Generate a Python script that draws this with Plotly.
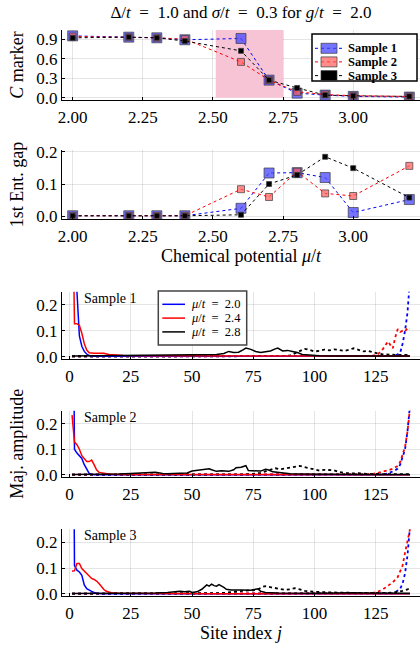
import plotly.graph_objects as go

# ---------------- data: top panels ----------------
mu = [2.0, 2.2, 2.3, 2.4, 2.6, 2.7, 2.8, 2.9, 3.0, 3.2]
c_marker_s1 = [0.95, 0.93, 0.92, 0.89, 0.91, 0.27, 0.07, 0.04, 0.02, 0.01]
c_marker_s2 = [0.94, 0.93, 0.92, 0.90, 0.55, 0.27, 0.09, 0.05, 0.03, 0.02]
c_marker_s3 = [0.92, 0.93, 0.92, 0.87, 0.72, 0.27, 0.15, 0.04, 0.03, 0.02]
gap_s1 = [0.002, 0.002, 0.002, 0.002, 0.025, 0.134, 0.135, 0.12, 0.012, 0.052]
gap_s2 = [0.002, 0.002, 0.002, 0.002, 0.084, 0.060, 0.138, 0.071, 0.063, 0.156]
gap_s3 = [0.002, 0.002, 0.002, 0.002, 0.005, 0.100, 0.128, 0.184, 0.149, 0.058]
sample_names = ["Sample 1", "Sample 2", "Sample 3"]
shade_mu = [2.51, 2.75]

# ---------------- data: Majorana amplitudes ----------------
mu_labels = ["2.0", "2.4", "2.8"]

# Sample 1
s1_b_sol_j = [1, 2, 3, 4, 5, 6, 7, 8, 9, 10, 20, 60, 100, 139]
s1_b_sol_a = [0.8, 0.45, 0.25, 0.08, 0.04, 0.02, 0.01, 0.004, 0.002, 0.001, 0.001, 0.001, 0.001, 0.001]
s1_r_sol_j = [1, 2, 3, 4, 5, 6, 7, 8, 10, 12, 14, 16, 18, 22, 30, 60, 100, 125, 139]
s1_r_sol_a = [0.75, 0.127, 0.127, 0.12, 0.09, 0.05, 0.025, 0.015, 0.013, 0.014, 0.013, 0.008, 0.006, 0.004, 0.003, 0.003, 0.002, 0.002, 0.002]
s1_k_sol_j = [1, 15, 30, 45, 55, 60, 63, 65, 67, 69, 71, 72, 74, 76, 78, 80, 82, 84, 85, 87, 89, 91, 93, 95, 98, 102, 110, 120, 130, 139]
s1_k_sol_a = [0.002, 0.003, 0.004, 0.005, 0.006, 0.008, 0.012, 0.02, 0.016, 0.017, 0.027, 0.033, 0.028, 0.02, 0.016, 0.02, 0.022, 0.03, 0.033, 0.022, 0.024, 0.02, 0.016, 0.008, 0.005, 0.003, 0.002, 0.002, 0.002, 0.002]
s1_b_dot_j = [1, 60, 120, 130, 132, 133, 134, 135, 136, 137, 138, 139]
s1_b_dot_a = [0.001, 0.001, 0.001, 0.001, 0.002, 0.004, 0.008, 0.015, 0.05, 0.1, 0.17, 0.3]
s1_r_dot_j = [1, 40, 80, 120, 124, 126, 128, 130, 131, 132, 133, 134, 135, 136, 137, 138, 139]
s1_r_dot_a = [0.001, 0.001, 0.001, 0.002, 0.004, 0.01, 0.03, 0.058, 0.045, 0.032, 0.075, 0.106, 0.095, 0.1, 0.097, 0.11, 0.108]
s1_k_dot_j = [1, 30, 60, 85, 90, 92, 94, 96, 98, 100, 102, 104, 106, 108, 110, 112, 114, 116, 118, 120, 122, 124, 126, 128, 130, 133, 136, 139]
s1_k_dot_a = [0.001, 0.001, 0.001, 0.002, 0.004, 0.012, 0.022, 0.03, 0.026, 0.02, 0.022, 0.027, 0.024, 0.028, 0.026, 0.022, 0.026, 0.032, 0.026, 0.02, 0.022, 0.016, 0.012, 0.009, 0.008, 0.006, 0.006, 0.007]

# Sample 2
s2_b_sol_j = [1, 2, 3, 4, 5, 6, 7, 8, 9, 10, 20, 60, 100, 139]
s2_b_sol_a = [1.2, 0.1, 0.085, 0.072, 0.064, 0.04, 0.02, 0.006, 0.002, 0.001, 0.001, 0.001, 0.001, 0.001]
s2_r_sol_j = [1, 2, 3, 4, 5, 6, 7, 8, 9, 10, 11, 12, 14, 16, 20, 30, 60, 100, 139]
s2_r_sol_a = [0.233, 0.128, 0.118, 0.1, 0.075, 0.065, 0.052, 0.052, 0.058, 0.04, 0.02, 0.01, 0.006, 0.004, 0.002, 0.002, 0.001, 0.001, 0.001]
s2_k_sol_j = [1, 15, 20, 25, 30, 33, 35, 38, 40, 45, 48, 50, 53, 55, 57, 58, 60, 62, 65, 67, 68, 70, 72, 73, 75, 78, 80, 81, 83, 86, 90, 95, 100, 110, 120, 130, 139]
s2_k_sol_a = [0.002, 0.002, 0.004, 0.006, 0.008, 0.009, 0.01, 0.006, 0.005, 0.007, 0.008, 0.015, 0.02, 0.021, 0.024, 0.02, 0.014, 0.016, 0.014, 0.02, 0.028, 0.03, 0.036, 0.017, 0.016, 0.015, 0.022, 0.02, 0.012, 0.008, 0.005, 0.004, 0.003, 0.002, 0.002, 0.002, 0.002]
s2_b_dot_j = [1, 60, 120, 128, 130, 132, 133, 134, 135, 136, 137, 138, 139]
s2_b_dot_a = [0.001, 0.001, 0.001, 0.002, 0.006, 0.012, 0.018, 0.025, 0.04, 0.07, 0.1, 0.17, 0.27]
s2_r_dot_j = [1, 60, 115, 120, 124, 126, 128, 130, 132, 134, 135, 136, 137, 138, 139]
s2_r_dot_a = [0.001, 0.001, 0.001, 0.002, 0.004, 0.008, 0.012, 0.018, 0.024, 0.035, 0.05, 0.08, 0.11, 0.17, 0.26]
s2_k_dot_j = [1, 40, 70, 75, 78, 80, 82, 84, 86, 88, 90, 92, 94, 96, 98, 100, 102, 104, 106, 108, 110, 112, 115, 118, 122, 126, 130, 135, 139]
s2_k_dot_a = [0.001, 0.001, 0.002, 0.004, 0.008, 0.014, 0.02, 0.026, 0.022, 0.025, 0.028, 0.03, 0.035, 0.03, 0.025, 0.02, 0.017, 0.02, 0.02, 0.018, 0.012, 0.008, 0.006, 0.007, 0.004, 0.003, 0.003, 0.003, 0.003]

# Sample 3
s3_b_sol_j = [1, 2, 3, 4, 5, 6, 7, 8, 9, 10, 11, 13, 60, 100, 139]
s3_b_sol_a = [1.5, 0.11, 0.092, 0.085, 0.072, 0.035, 0.02, 0.014, 0.01, 0.006, 0.003, 0.001, 0.001, 0.001, 0.001]
s3_r_sol_j = [1, 2, 3, 4, 5, 6, 7, 8, 9, 10, 11, 12, 13, 14, 15, 17, 20, 30, 60, 100, 139]
s3_r_sol_a = [0.088, 0.09, 0.118, 0.118, 0.098, 0.088, 0.08, 0.068, 0.06, 0.056, 0.05, 0.04, 0.028, 0.017, 0.01, 0.005, 0.003, 0.002, 0.001, 0.001, 0.001]
s3_k_sol_j = [1, 20, 30, 35, 40, 43, 45, 47, 49, 50, 52, 54, 55, 56, 57, 58, 59, 60, 61, 62, 63, 64, 66, 70, 74, 76, 77, 78, 80, 85, 90, 100, 110, 114, 116, 120, 125, 130, 139]
s3_k_sol_a = [0.002, 0.002, 0.003, 0.004, 0.006, 0.008, 0.01, 0.008, 0.01, 0.006, 0.008, 0.018, 0.028, 0.035, 0.03, 0.038, 0.032, 0.03, 0.036, 0.032, 0.025, 0.018, 0.015, 0.015, 0.014, 0.018, 0.02, 0.01, 0.006, 0.004, 0.003, 0.003, 0.004, 0.006, 0.005, 0.004, 0.004, 0.003, 0.003]
s3_b_dot_j = [1, 60, 120, 130, 132, 133, 134, 135, 136, 137, 138, 139]
s3_b_dot_a = [0.001, 0.001, 0.001, 0.001, 0.002, 0.006, 0.012, 0.02, 0.04, 0.08, 0.15, 0.26]
s3_r_dot_j = [1, 60, 115, 122, 124, 126, 128, 130, 132, 134, 135, 136, 137, 138, 139]
s3_r_dot_a = [0.001, 0.001, 0.001, 0.002, 0.004, 0.009, 0.018, 0.03, 0.045, 0.065, 0.085, 0.11, 0.16, 0.2, 0.25]
s3_k_dot_j = [1, 40, 55, 60, 63, 65, 68, 70, 72, 75, 77, 79, 80, 82, 84, 86, 88, 90, 92, 94, 96, 100, 105, 110, 120, 125, 128, 130, 132, 134, 136, 138, 139]
s3_k_dot_a = [0.001, 0.001, 0.002, 0.003, 0.004, 0.006, 0.01, 0.012, 0.013, 0.014, 0.018, 0.028, 0.03, 0.026, 0.022, 0.02, 0.016, 0.018, 0.022, 0.018, 0.012, 0.008, 0.006, 0.005, 0.004, 0.003, 0.003, 0.004, 0.005, 0.008, 0.012, 0.018, 0.022]

samples = [
    [(s1_b_sol_j, s1_b_sol_a, s1_b_dot_j, s1_b_dot_a),
     (s1_r_sol_j, s1_r_sol_a, s1_r_dot_j, s1_r_dot_a),
     (s1_k_sol_j, s1_k_sol_a, s1_k_dot_j, s1_k_dot_a)],
    [(s2_b_sol_j, s2_b_sol_a, s2_b_dot_j, s2_b_dot_a),
     (s2_r_sol_j, s2_r_sol_a, s2_r_dot_j, s2_r_dot_a),
     (s2_k_sol_j, s2_k_sol_a, s2_k_dot_j, s2_k_dot_a)],
    [(s3_b_sol_j, s3_b_sol_a, s3_b_dot_j, s3_b_dot_a),
     (s3_r_sol_j, s3_r_sol_a, s3_r_dot_j, s3_r_dot_a),
     (s3_k_sol_j, s3_k_sol_a, s3_k_dot_j, s3_k_dot_a)],
]

# ---------------- styling ----------------
FONT = "Liberation Serif"
W, H = 420, 645
ML, MR, MT, MB = 62, 0, 30, 49
PW = W - ML - MR
PH = H - MT - MB
EQ = "\u2002=\u2002"


def ydom(top_px, bot_px):
    return [(H - MB - bot_px) / PH, (H - MB - top_px) / PH]


def px_x(px):
    return (px - ML) / PW


def px_y(py):
    return (H - MB - py) / PH


line_cols = ["blue", "red", "black"]
mk_fill = ["rgba(70,70,255,0.75)", "rgba(255,90,90,0.7)", "rgba(0,0,0,1)"]
mk_edge = "rgba(60,60,60,0.7)"
mk_size = [10, 7, 5]

fig = go.Figure()

# top panel: C marker
for i, vals in enumerate([c_marker_s1, c_marker_s2, c_marker_s3]):
    fig.add_trace(go.Scatter(
        x=mu, y=vals, mode="lines+markers", name=sample_names[i], showlegend=False,
        line=dict(color=line_cols[i], width=1, dash="dot"),
        marker=dict(symbol="square", size=mk_size[i], color=mk_fill[i],
                    line=dict(color=mk_edge, width=1)),
        xaxis="x", yaxis="y"))

# second panel: entanglement gap
for i, vals in enumerate([gap_s1, gap_s2, gap_s3]):
    fig.add_trace(go.Scatter(
        x=mu, y=vals, mode="lines+markers", name=sample_names[i], showlegend=False,
        line=dict(color=line_cols[i], width=1, dash="dot"),
        marker=dict(symbol="square", size=mk_size[i], color=mk_fill[i],
                    line=dict(color=mk_edge, width=1)),
        xaxis="x2", yaxis="y2"))

# bottom panels
for s, curves in enumerate(samples):
    xa = f"x{s + 3}"
    ya = f"y{s + 3}"
    for c, (js, as_, jd, ad) in enumerate(curves):
        fig.add_trace(go.Scatter(
            x=jd, y=ad, mode="lines", showlegend=False,
            line=dict(color=line_cols[c], width=1.8, dash="dot"),
            xaxis=xa, yaxis=ya))
    for c, (js, as_, jd, ad) in enumerate(curves):
        fig.add_trace(go.Scatter(
            x=js, y=as_, mode="lines", showlegend=False,
            name=f"μ/t = {mu_labels[c]}",
            line=dict(color=line_cols[c], width=1.5),
            xaxis=xa, yaxis=ya))

axis_common = dict(
    showline=True, linecolor="black", linewidth=1, mirror=False,
    ticks="inside", ticklen=3, tickcolor="black",
    showgrid=True, gridcolor="rgba(0,0,0,0.1)", gridwidth=1,
    zeroline=False, automargin=False,
    tickfont=dict(family=FONT, size=17, color="black"),
)

mu_ticks = [2.0, 2.25, 2.5, 2.75, 3.0]
mu_ticktext = ["2.00", "2.25", "2.50", "2.75", "3.00"]
site_ticks = [0, 25, 50, 75, 100, 125]
TFONT = dict(family=FONT, size=18, color="black")

shapes = [dict(type="rect", xref="x", yref="y", x0=shade_mu[0], x1=shade_mu[1],
               y0=0.0, y1=1.04, fillcolor="#f7c4d6", line=dict(width=0), layer="between")]
ann = []

# ---- legend for the top panel (drawn as layout shapes + text) ----
leg1 = dict(left=312, right=417, top=34, bottom=81, rows=[48.3, 61.9, 75.6],
            line_x=(315, 343), glyph_x=329, text_x=346)
shapes.append(dict(type="rect", xref="paper", yref="paper",
                   x0=px_x(leg1["left"]), x1=px_x(leg1["right"]),
                   y0=px_y(leg1["bottom"]), y1=px_y(leg1["top"]),
                   fillcolor="white", line=dict(color="black", width=1.5), layer="above"))
for i, ry in enumerate(leg1["rows"]):
    shapes.append(dict(type="line", xref="paper", yref="paper",
                       x0=px_x(leg1["line_x"][0]), x1=px_x(leg1["line_x"][1]),
                       y0=px_y(ry), y1=px_y(ry),
                       line=dict(color=line_cols[i], width=1, dash="dot"), layer="above"))
    shapes.append(dict(type="rect", xref="paper", yref="paper",
                       x0=px_x(leg1["glyph_x"] - 8), x1=px_x(leg1["glyph_x"] + 8),
                       y0=px_y(ry + 5), y1=px_y(ry - 5),
                       fillcolor=mk_fill[i], line=dict(color=mk_edge, width=1), layer="above"))
    ann.append(dict(text=f"<b>{sample_names[i]}</b>", xref="paper", yref="paper",
                    x=px_x(leg1["text_x"]), y=px_y(ry), xanchor="left", yanchor="middle",
                    showarrow=False, font=dict(family=FONT, size=12.5, color="black")))

# ---- legend for the amplitude panels ----
leg2 = dict(left=158.3, right=246.7, top=291, bottom=345, rows=[304.3, 318.1, 331.9],
            line_x=(162.3, 185), text_x=189)
shapes.append(dict(type="rect", xref="paper", yref="paper",
                   x0=px_x(leg2["left"]), x1=px_x(leg2["right"]),
                   y0=px_y(leg2["bottom"]), y1=px_y(leg2["top"]),
                   fillcolor="white", line=dict(color="#444", width=1.5), layer="above"))
for c, ry in enumerate(leg2["rows"]):
    shapes.append(dict(type="line", xref="paper", yref="paper",
                       x0=px_x(leg2["line_x"][0]), x1=px_x(leg2["line_x"][1]),
                       y0=px_y(ry), y1=px_y(ry),
                       line=dict(color=line_cols[c], width=1.5), layer="above"))
    ann.append(dict(text=f"<i>μ</i>/<i>t</i>{EQ}{mu_labels[c]}", xref="paper", yref="paper",
                    x=px_x(leg2["text_x"]), y=px_y(ry), xanchor="left", yanchor="middle",
                    showarrow=False, font=dict(family=FONT, size=12.5, color="black")))

layout = dict(
    width=W, height=H,
    margin=dict(l=ML, r=MR, t=MT, b=MB),
    paper_bgcolor="white", plot_bgcolor="white",
    font=dict(family=FONT, size=16, color="black"),
    showlegend=False,
    title=dict(text=f"Δ/<i>t</i>{EQ}1.0 and <i>σ</i>/<i>t</i>{EQ}0.3 for <i>g</i>/<i>t</i>{EQ}2.0",
               x=241 / W, xanchor="center", y=1 - 12 / H, yanchor="middle",
               font=dict(family=FONT, size=17)),
    xaxis=dict(**axis_common, domain=[0, 1], range=[1.962, 3.238], anchor="y",
               tickvals=mu_ticks, ticktext=mu_ticktext, ticklabelstandoff=2),
    yaxis=dict(**axis_common, domain=ydom(30, 100), range=[-0.035, 1.04], anchor="x",
               tickvals=[0.0, 0.3, 0.6, 0.9], ticktext=["0.0", "0.3", "0.6", "0.9"],
               title=dict(text="<i>C</i> marker", standoff=8, font=TFONT)),
    xaxis2=dict(**axis_common, domain=[0, 1], range=[1.962, 3.238], anchor="y2",
                tickvals=mu_ticks, ticktext=mu_ticktext, ticklabelstandoff=2,
                title=dict(text="Chemical potential <i>μ</i>/<i>t</i>", standoff=3, font=TFONT)),
    yaxis2=dict(**axis_common, domain=ydom(150, 219), range=[-0.008, 0.205], anchor="x2",
                tickvals=[0.0, 0.1, 0.2], ticktext=["0.0", "0.1", "0.2"],
                title=dict(text="1st Ent. gap", standoff=8, font=TFONT)),
)

bottom_doms = [(291.7, 358.7), (410.7, 477), (529.3, 596)]
for s, (t, b) in enumerate(bottom_doms):
    k = s + 3
    xa = dict(**axis_common, domain=[0, 1], range=[-3.1, 143.1], anchor=f"y{k}",
              tickvals=site_ticks, ticklabelstandoff=2)
    ya = dict(**axis_common, domain=ydom(t, b), range=[-0.008, 0.25], anchor=f"x{k}",
              tickvals=[0.0, 0.1, 0.2], ticktext=["0.0", "0.1", "0.2"])
    if s == 1:
        ya["title"] = dict(text="Maj. amplitude", standoff=8, font=TFONT)
    if s == 2:
        xa["title"] = dict(text="Site index <i>j</i>", standoff=3, font=TFONT)
    layout[f"xaxis{k}"] = xa
    layout[f"yaxis{k}"] = ya
    ann.append(dict(text=sample_names[s], xref="paper", yref="paper",
                    x=px_x(82), xanchor="left",
                    y=px_y(t + 6.5), yanchor="middle", showarrow=False,
                    font=dict(family=FONT, size=14, color="black")))

layout["annotations"] = ann
layout["shapes"] = shapes

fig.update_layout(**layout)
fig.write_html("out.html", config={"displayModeBar": False},
               post_script="document.body.style.margin='0';")
